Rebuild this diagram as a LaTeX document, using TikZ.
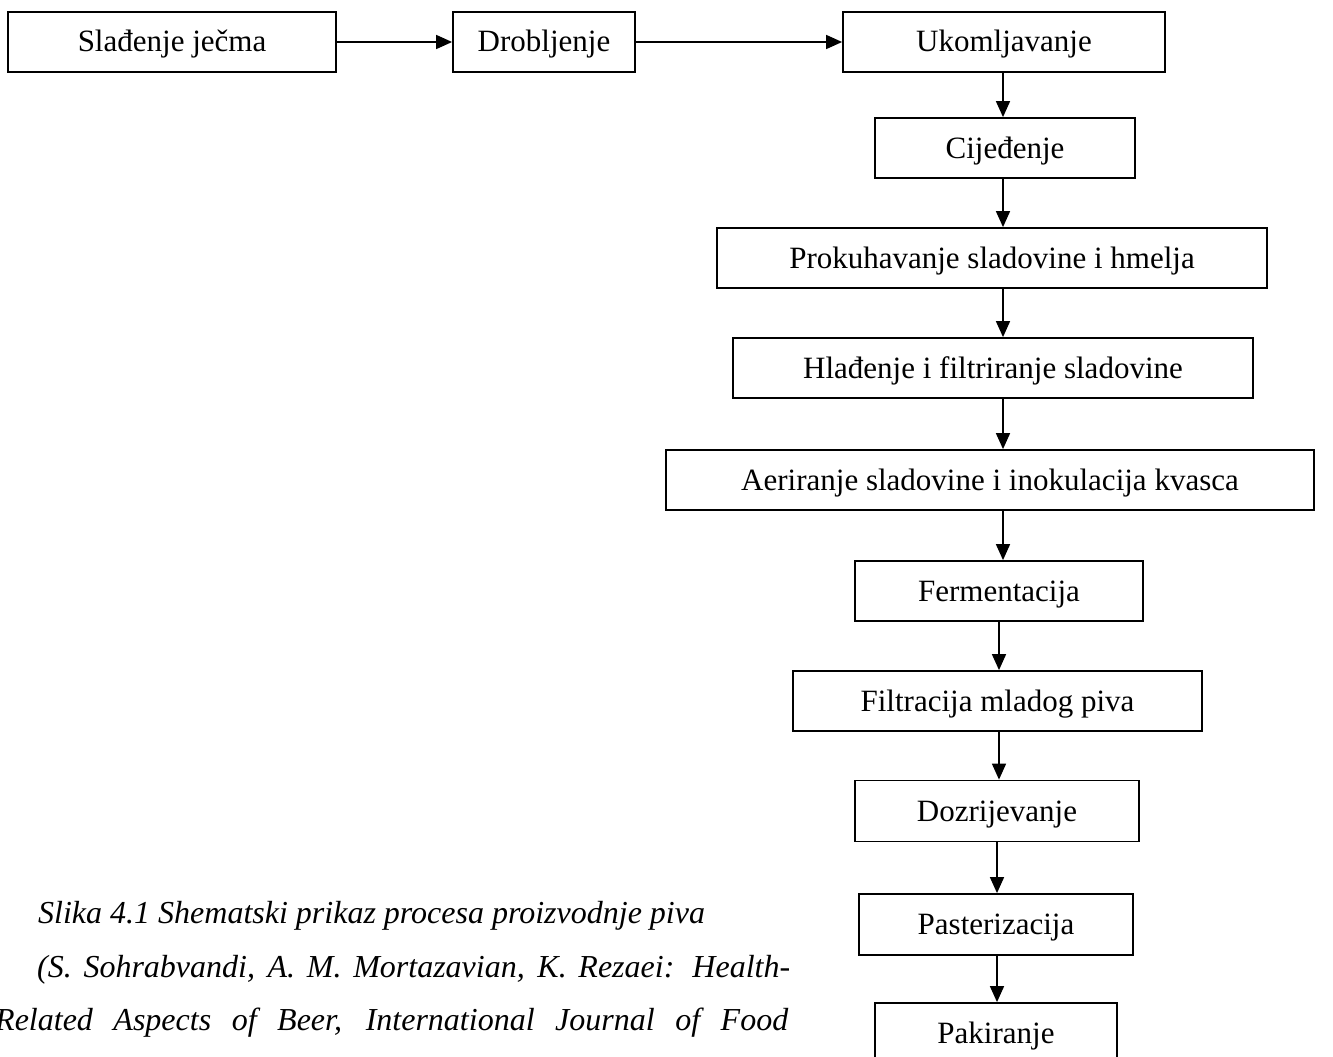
\documentclass[tikz,border=0pt]{standalone}
\usepackage{fontspec}
\setmainfont{Liberation Serif}
\usetikzlibrary{arrows.meta}
\begin{document}
\begin{tikzpicture}[x=1pt,y=-1pt,
  stepbox/.style={draw, line width=1.8pt, inner sep=0pt, text height=20pt, text depth=0pt, font=\fontsize{31}{37}\selectfont},
  arr/.style={line width=1.6pt, -{Triangle[length=16pt,width=14pt]}},
  captext/.style={anchor=base west, inner sep=0pt, font=\itshape\fontsize{32}{37}\selectfont}]
\useasboundingbox (0,0) rectangle (1333,1057);
\node[stepbox, minimum width=328pt, minimum height=60pt] (s) at (172,42) {Slađenje ječma};
\node[stepbox, minimum width=182pt, minimum height=60pt] (d) at (544,42) {Drobljenje};
\node[stepbox, minimum width=322pt, minimum height=60pt] (u) at (1004,42) {Ukomljavanje};
\node[stepbox, minimum width=260pt, minimum height=60pt] (c) at (1005,148) {Cijeđenje};
\node[stepbox, minimum width=550pt, minimum height=60pt] (p) at (992,258) {Prokuhavanje sladovine i hmelja};
\node[stepbox, minimum width=520pt, minimum height=60pt] (h) at (993,368) {Hlađenje i filtriranje sladovine};
\node[stepbox, minimum width=648pt, minimum height=60pt] (a) at (990,480) {Aeriranje sladovine i inokulacija kvasca};
\node[stepbox, minimum width=288pt, minimum height=60pt] (f) at (999,591) {Fermentacija};
\node[stepbox, minimum width=409pt, minimum height=60pt] (fm) at (997.5,701) {Filtracija mladog piva};
\node[stepbox, minimum width=284pt, minimum height=61pt] (dz) at (997,811) {Dozrijevanje};
\node[stepbox, minimum width=274pt, minimum height=61pt] (ps) at (996,924.5) {Pasterizacija};
\node[stepbox, minimum width=242pt, minimum height=60pt] (pk) at (996,1033) {Pakiranje};
\coordinate (x1) at (1003,0);
\coordinate (x2) at (999,0);
\coordinate (x3) at (997,0);
\draw[arr] (s.east) -- (d.west);
\draw[arr] (d.east) -- (u.west);
\draw[arr] (u.south -| x1) -- (c.north -| x1);
\draw[arr] (c.south -| x1) -- (p.north -| x1);
\draw[arr] (p.south -| x1) -- (h.north -| x1);
\draw[arr] (h.south -| x1) -- (a.north -| x1);
\draw[arr] (a.south -| x1) -- (f.north -| x1);
\draw[arr] (f.south -| x2) -- (fm.north -| x2);
\draw[arr] (fm.south -| x2) -- (dz.north -| x2);
\draw[arr] (dz.south -| x3) -- (ps.north -| x3);
\draw[arr] (ps.south -| x3) -- (pk.north -| x3);
\node[captext] (cap1) at (38,923) {Slika 4.1 Shematski prikaz procesa proizvodnje piva};
\node[captext] (cap2) at (37,977) {\makebox[753pt][s]{(S. Sohrabvandi, A. M. Mortazavian, K. Rezaei: Health-}};
\node[captext] (cap3) at (-5,1030) {\makebox[793pt][s]{Related Aspects of Beer, International Journal of Food}};
\end{tikzpicture}
\end{document}
